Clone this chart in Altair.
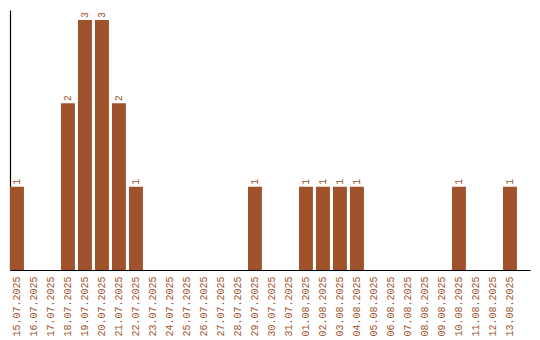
import altair as alt
import pandas as pd

dates = ["15.07.2025", "16.07.2025", "17.07.2025", "18.07.2025", "19.07.2025",
         "20.07.2025", "21.07.2025", "22.07.2025", "23.07.2025", "24.07.2025",
         "25.07.2025", "26.07.2025", "27.07.2025", "28.07.2025", "29.07.2025",
         "30.07.2025", "31.07.2025", "01.08.2025", "02.08.2025", "03.08.2025",
         "04.08.2025", "05.08.2025", "06.08.2025", "07.08.2025", "08.08.2025",
         "09.08.2025", "10.08.2025", "11.08.2025", "12.08.2025", "13.08.2025"]
counts = [1, 0, 0, 2, 3, 3, 2, 1, 0, 0,
          0, 0, 0, 0, 1, 0, 0, 1, 1, 1,
          1, 0, 0, 0, 0, 0, 1, 0, 0, 1]

df = pd.DataFrame({"date": dates, "count": counts})
df["label"] = df["count"].apply(lambda v: str(v) if v > 0 else "")

COLOR = "#A0522D"
FONT = "Liberation Mono"

xaxis = alt.Axis(title=None, labelAngle=270, labelAlign="right",
                 labelBaseline="middle", labelColor=COLOR,
                 labelFont=FONT, labelFontSize=10, labelPadding=6,
                 ticks=False, domainColor="black", domainWidth=1.2,
                 grid=False, labelOverlap=False)
yaxis = alt.Axis(title=None, labels=False, ticks=False, grid=False,
                 domainColor="black", domainWidth=1.2)
xscale = alt.Scale(paddingInner=0.18, paddingOuter=0.385, align=0)
yscale = alt.Scale(domain=[0, 3.12], nice=False)

bars = alt.Chart(df).mark_bar(color=COLOR).encode(
    x=alt.X("date:N", sort=dates, scale=xscale, axis=xaxis),
    y=alt.Y("count:Q", scale=yscale, axis=yaxis),
)

texts = alt.Chart(df).mark_text(angle=270, align="left", baseline="middle",
                                dx=2, color=COLOR, font=FONT, fontSize=10).encode(
    x=alt.X("date:N", sort=dates, scale=xscale, axis=xaxis),
    y=alt.Y("count:Q", scale=yscale, axis=yaxis),
    text="label:N",
)

chart = alt.layer(bars, texts).properties(
    width=520, height=260,
    padding={"left": 10, "top": 10, "right": 10, "bottom": 70},
    autosize=alt.AutoSizeParams(type="none"),
).configure_view(stroke=None)

chart.save("out.html", embed_options={"renderer": "svg", "actions": False})
